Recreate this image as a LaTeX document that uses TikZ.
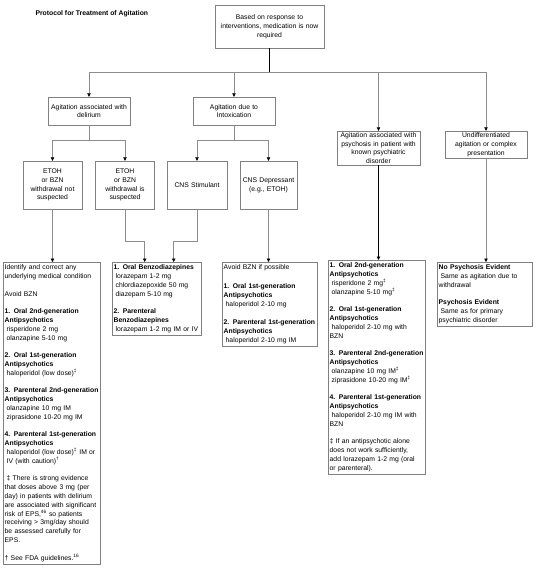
\documentclass[tikz,border=0pt]{standalone}
\usepackage{fontspec}
\setmainfont{Liberation Sans}
\usepackage{tikz}
\usetikzlibrary{arrows.meta,positioning,calc}
\definecolor{boxgray}{gray}{0.5}
\definecolor{linegray}{gray}{0.55}
\newcommand\boxfont{\fontsize{6.8}{8.8}\selectfont}
\newcommand\ind{\hspace*{2pt}}
\newcommand\gap{\\[8.8pt]}
\newcommand\ddg{\textsuperscript{‡}}

\begin{document}
\begin{tikzpicture}[x=1pt,y=-1pt,font=\boxfont,
    dec/.style={draw=boxgray,align=center,inner xsep=1pt,inner ysep=1pt},
    res/.style={draw=boxgray,anchor=north west,align=left,inner xsep=1.5pt,inner ysep=2.5pt},
    conn/.style={draw=linegray,line width=0.6pt},
    arr/.style={conn,-{Triangle[length=3.5pt,width=3.5pt,color=black]}},
    main/.style={draw=black,line width=0.9pt}]
  % page = 540 x 568 px, 1px = 1pt, y runs downwards
  \useasboundingbox (0,0) rectangle (540,568);
  \node[font=\boxfont\bfseries,anchor=west] (title) at (32,14) {Protocol for Treatment of Agitation};

  % decision boxes
  \node[dec,text width=107pt,minimum height=43pt] (top) at (269.5,26.5)
    {Based on response to\\interventions, medication is now\\required};
  \node[dec,text width=80pt,minimum height=28pt] (delir) at (89,111) {Agitation associated with\\delirium};
  \node[dec,text width=80pt,minimum height=28pt] (intox) at (234,111) {Agitation due to\\Intoxication};
  \node[dec,text width=81pt,minimum height=34pt] (psych) at (378.5,148)
    {Agitation associated with\\psychosis in patient with\\known psychiatric\\disorder};
  \node[dec,text width=80pt,minimum height=27pt] (undiff) at (486,144.5)
    {Undifferentiated\\agitation or complex\\presentation};
  \node[dec,text width=57pt,minimum height=48pt] (etoh1) at (52.5,185) {ETOH\\or BZN\\withdrawal not\\suspected};
  \node[dec,text width=57pt,minimum height=48pt] (etoh2) at (125,185) {ETOH\\or BZN\\withdrawal is\\suspected};
  \node[dec,text width=58pt,minimum height=48pt] (stim) at (197,185) {CNS Stimulant};
  \node[dec,text width=55pt,minimum height=48pt] (dep) at (268.5,185) {CNS Depressant\\(e.g., ETOH)};

  % treatment boxes
  \node[res,text width=94pt] (left) at (3,262) {Identify and correct any\\underlying medical condition\gap
    Avoid BZN\gap
    \textbf{1. Oral 2nd-generation}\\\textbf{Antipsychotics}\\\ind risperidone 2 mg\\\ind olanzapine 5-10 mg\gap
    \textbf{2. Oral 1st-generation}\\\textbf{Antipsychotics}\\\ind haloperidol (low dose)\ddg\gap
    \textbf{3. Parenteral 2nd-generation}\\\textbf{Antipsychotics}\\\ind olanzapine 10 mg IM\\\ind ziprasidone 10-20 mg IM\gap
    \textbf{4. Parenteral 1st-generation}\\\textbf{Antipsychotics}\\\ind haloperidol (low dose)\ddg{} IM or\\\ind IV (with caution)\textsuperscript{†}\gap
    \ind‡ There is strong evidence\\that doses above 3 mg (per\\day) in patients with delirium\\are associated with significant\\risk of EPS,\textsuperscript{46} so patients\\receiving > 3mg/day should\\be assessed carefully for\\EPS.\gap
    † See FDA guidelines.\textsuperscript{16}};
  \node[res,text width=86pt] (benzo) at (112,262) {\textbf{1. Oral Benzodiazepines}\\\ind lorazepam 1-2 mg\\\ind chlordiazepoxide 50 mg\\\ind diazepam 5-10 mg\gap
    \textbf{2. Parenteral}\\\textbf{Benzodiazepines}\\\ind lorazepam 1-2 mg IM or IV};
  \node[res,text width=92pt] (avoid) at (222,262) {Avoid BZN if possible\\[10pt]
    \textbf{1. Oral 1st-generation}\\\textbf{Antipsychotics}\\\ind haloperidol 2-10 mg\\[10pt]
    \textbf{2. Parenteral 1st-generation}\\\textbf{Antipsychotics}\\\ind haloperidol 2-10 mg IM\\[-2pt]};
  \node[res,text width=94pt] (psychres) at (328,260) {\textbf{1. Oral 2nd-generation}\\\textbf{Antipsychotics}\\\ind risperidone 2 mg\ddg\\\ind olanzapine 5-10 mg\ddg\gap
    \textbf{2. Oral 1st-generation}\\\textbf{Antipsychotics}\\\ind haloperidol 2-10 mg with\\BZN\gap
    \textbf{3. Parenteral 2nd-generation}\\\textbf{Antipsychotics}\\\ind olanzapine 10 mg IM\ddg\\\ind ziprasidone 10-20 mg IM\ddg\gap
    \textbf{4. Parenteral 1st-generation}\\\textbf{Antipsychotics}\\\ind haloperidol 2-10 mg IM with\\BZN\gap
    ‡ If an antipsychotic alone\\does not work sufficiently,\\add lorazepam 1-2 mg (oral\\or parenteral).};
  \node[res,text width=92pt] (undiffres) at (437,262) {\textbf{No Psychosis Evident}\\\ind Same as agitation due to\\withdrawal\gap
    \textbf{Psychosis Evident}\\\ind Same as for primary\\psychiatric disorder};

  % connectors
  \draw[main] (top.south) -- (top.south |- 0,72) coordinate (bus);
  \foreach \n in {delir,intox,psych,undiff} \draw[arr] (bus) -| (\n.north);
  \draw[conn] (delir.south) -- (delir.south |- 0,140) coordinate (dbus);
  \foreach \n in {etoh1,etoh2} \draw[arr] (dbus) -| (\n.north);
  \draw[conn] (intox.south) -- (intox.south |- 0,140) coordinate (ibus);
  \foreach \n in {stim,dep} \draw[arr] (ibus) -| (\n.north);
  \draw[arr] (etoh1.south) -- (etoh1.south |- left.north);
  \draw[arr] (etoh2.south) |- ($(benzo.north)+(-12,-21)$) -- ([xshift=-12pt]benzo.north);
  \draw[arr] (stim.south) |- ($(benzo.north)+(17,-21)$) -- ([xshift=17pt]benzo.north);
  \draw[arr] (dep.south) -- (dep.south |- avoid.north);
  \draw[arr,main] (psych.south) -- (psych.south |- psychres.north);
  \draw[arr] (undiff.south) -- (undiff.south |- undiffres.north);
\end{tikzpicture}
\end{document}
